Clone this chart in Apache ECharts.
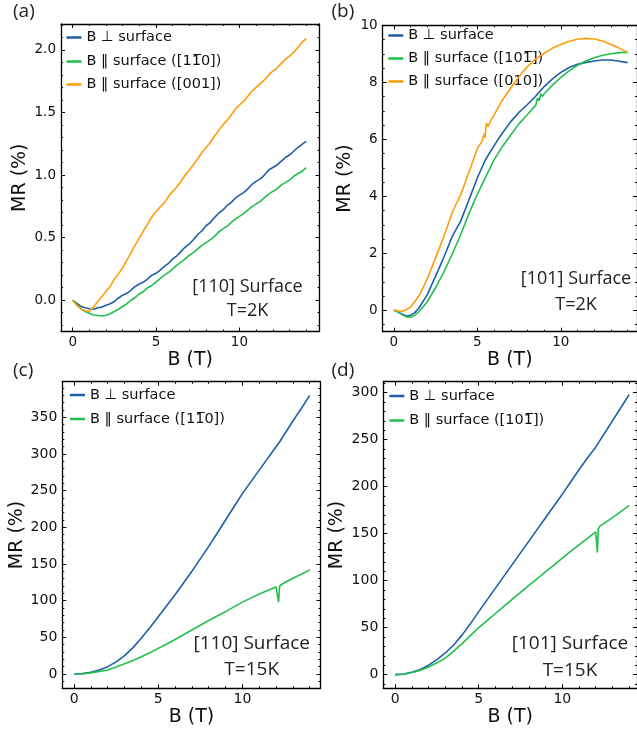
<!DOCTYPE html>
<html>
<head>
<meta charset="utf-8">
<script src="https://cdn.jsdelivr.net/npm/echarts@6/dist/echarts.min.js"></script>
<style>
  html, body { margin: 0; padding: 0; background: #fff; }
  #fig { width: 637px; height: 734px; }
</style>
</head>
<body>
<div id="fig"></div>
<script>
// ---- Measured magnetoresistance, [B (T), MR (%)] ----
// (a) [110] surface, T = 2 K
const a_perp = [[0,0],[0.25,-0.025],[0.5,-0.05],[0.75,-0.06],[1,-0.068],[1.25,-0.072],[1.5,-0.06],[1.75,-0.055],[2,-0.04],[2.25,-0.028],[2.5,-0.01],[2.75,0.018],[3,0.04],[3.25,0.055],[3.5,0.08],[3.75,0.11],[4,0.13],[4.25,0.145],[4.5,0.17],[4.75,0.2],[5,0.215],[5.25,0.24],[5.5,0.27],[5.75,0.295],[6,0.33],[6.25,0.355],[6.5,0.39],[6.75,0.425],[7,0.45],[7.25,0.485],[7.5,0.525],[7.75,0.555],[8,0.595],[8.25,0.62],[8.5,0.66],[8.75,0.695],[9,0.72],[9.25,0.755],[9.5,0.78],[9.75,0.815],[10,0.84],[10.25,0.86],[10.5,0.89],[10.75,0.925],[11,0.95],[11.25,0.97],[11.5,1.0],[11.75,1.04],[12,1.06],[12.25,1.08],[12.5,1.11],[12.75,1.14],[13,1.16],[13.25,1.19],[13.5,1.22],[13.75,1.245],[14,1.27]];
const a_par110 = [[0,0],[0.25,-0.035],[0.5,-0.07],[0.75,-0.09],[1,-0.105],[1.25,-0.118],[1.5,-0.122],[1.75,-0.126],[2,-0.12],[2.25,-0.108],[2.5,-0.09],[2.75,-0.072],[3,-0.05],[3.25,-0.028],[3.5,0],[3.75,0.022],[4,0.05],[4.25,0.07],[4.5,0.1],[4.75,0.118],[5,0.145],[5.25,0.175],[5.5,0.2],[5.75,0.222],[6,0.25],[6.25,0.28],[6.5,0.305],[6.75,0.33],[7,0.36],[7.25,0.382],[7.5,0.41],[7.75,0.438],[8,0.46],[8.25,0.482],[8.5,0.51],[8.75,0.545],[9,0.57],[9.25,0.59],[9.5,0.62],[9.75,0.648],[10,0.67],[10.25,0.692],[10.5,0.72],[10.75,0.748],[11,0.77],[11.25,0.79],[11.5,0.82],[11.75,0.848],[12,0.87],[12.25,0.89],[12.5,0.92],[12.75,0.94],[13,0.96],[13.25,0.99],[13.5,1.01],[13.75,1.03],[14,1.06]];
const a_par001 = [[0,0],[0.25,-0.04],[0.5,-0.07],[0.75,-0.085],[1,-0.088],[1.25,-0.055],[1.5,-0.01],[1.75,0.03],[2,0.07],[2.25,0.11],[2.5,0.17],[2.75,0.21],[3,0.26],[3.25,0.32],[3.5,0.38],[3.75,0.44],[4,0.5],[4.25,0.555],[4.5,0.61],[4.75,0.665],[5,0.71],[5.25,0.745],[5.5,0.78],[5.75,0.83],[6,0.87],[6.25,0.905],[6.5,0.95],[6.75,1.0],[7,1.04],[7.25,1.085],[7.5,1.13],[7.75,1.18],[8,1.22],[8.25,1.26],[8.5,1.31],[8.75,1.355],[9,1.4],[9.25,1.435],[9.5,1.48],[9.75,1.525],[10,1.56],[10.25,1.59],[10.5,1.63],[10.75,1.67],[11,1.7],[11.25,1.73],[11.5,1.76],[11.75,1.8],[12,1.83],[12.25,1.855],[12.5,1.89],[12.75,1.925],[13,1.95],[13.25,1.98],[13.5,2.02],[13.75,2.06],[14,2.09]];

// (b) [101] surface, T = 2 K
const b_perp = [[0,0],[0.25,-0.05],[0.5,-0.14],[0.75,-0.2],[1,-0.17],[1.25,-0.08],[1.5,0.08],[2,0.55],[2.5,1.2],[3,1.87],[3.5,2.6],[4,3.13],[4.5,3.88],[5,4.65],[5.5,5.3],[6,5.78],[6.5,6.22],[7,6.62],[7.5,6.95],[8,7.22],[8.5,7.52],[9,7.85],[9.5,8.12],[10,8.35],[10.5,8.52],[11,8.63],[11.5,8.7],[12,8.75],[12.5,8.78],[13,8.78],[13.5,8.74],[14,8.69]];
const b_par101 = [[0,0],[0.25,-0.06],[0.5,-0.16],[0.75,-0.23],[1,-0.24],[1.25,-0.17],[1.5,-0.05],[2,0.3],[2.5,0.8],[3,1.35],[3.5,1.98],[4,2.65],[4.5,3.4],[5,4.08],[5.5,4.68],[6,5.28],[6.5,5.75],[7,6.15],[7.5,6.55],[8,6.87],[8.5,7.2],[8.6,7.45],[8.7,7.35],[8.8,7.6],[8.9,7.5],[9,7.6],[9.5,7.9],[10,8.17],[10.5,8.4],[11,8.6],[11.5,8.75],[12,8.86],[12.5,8.95],[13,9.0],[13.5,9.04],[14,9.05]];
const b_par010 = [[0,0],[0.25,-0.02],[0.5,-0.03],[0.75,0.02],[1,0.12],[1.5,0.5],[2,1.1],[2.5,1.85],[3,2.6],[3.5,3.45],[4,4.05],[4.5,4.85],[5,5.68],[5.3,5.95],[5.4,6.2],[5.45,6.05],[5.55,6.57],[5.65,6.45],[5.75,6.6],[6,6.85],[6.5,7.38],[7,7.8],[7.5,8.2],[8,8.55],[8.5,8.82],[9,9.02],[9.5,9.2],[10,9.33],[10.5,9.44],[11,9.51],[11.5,9.54],[12,9.52],[12.5,9.45],[13,9.33],[13.5,9.2],[14,9.05]];

// (c) [110] surface, T = 15 K
const c_perp = [[0,0],[0.5,0.5],[1,2.5],[1.5,5.5],[2,10],[2.5,16.5],[3,25],[3.5,36],[4,49],[4.5,63],[5,78],[5.5,93],[6,108],[6.5,124],[7,140],[7.5,157],[8,174],[8.5,192],[9,210],[9.5,228],[10,246],[10.5,262],[11,278],[11.5,294],[12,310],[12.2,316],[12.25,314],[12.5,327],[13,345],[13.5,362],[14,380]];
const c_par110 = [[0,0],[0.5,0.3],[1,1.5],[1.5,3.3],[2,5.5],[2.5,9.5],[3,14],[3.5,18.5],[4,23.5],[4.5,29],[5,35],[5.5,41],[6,47],[6.5,53.5],[7,60],[7.5,66.5],[8,73],[8.5,79],[9,85],[9.5,91.5],[10,98],[10.5,103.5],[11,109],[11.5,114],[12,118.5],[12.1,119.5],[12.15,98],[12.2,118],[12.25,121],[12.5,124.5],[13,130.5],[13.5,136],[14,142]];

// (d) [101] surface, T = 15 K
const d_perp = [[0,0],[0.5,0.5],[1,2.5],[1.5,5.5],[2,10],[2.5,16],[3,23],[3.5,31.5],[4,42],[4.5,54],[5,67],[5.5,79.5],[6,92],[6.5,104.5],[7,117],[7.5,129.5],[8,142],[8.5,154.5],[9,167],[9.5,179.5],[10,192],[10.5,205],[11,218],[11.5,230.5],[12,242],[12.05,241],[12.1,245],[12.5,256],[13,270],[13.5,284],[14,298]];
const d_par101 = [[0,0],[0.5,0.4],[1,2.2],[1.5,4.5],[2,8],[2.5,12.5],[3,17.5],[3.5,25],[4,33],[4.5,41.5],[5,50],[5.5,57.5],[6,65],[6.5,72.5],[7,80],[7.5,87.5],[8,95],[8.5,102],[9,109.5],[9.5,116.5],[10,124],[10.5,131],[11,138],[11.5,145],[12,152],[12.05,153],[12.1,130],[12.15,155],[12.25,158],[12.5,161],[13,167],[13.5,173.5],[14,180]];

// ---- Tick labels ----
const xTicks  = [0, 5, 10];
const yTicksA = [0, 0.5, 1.0, 1.5, 2.0];
const yTicksB = [0, 2, 4, 6, 8, 10];
const yTicksC = [0, 50, 100, 150, 200, 250, 300, 350];
const yTicksD = [0, 50, 100, 150, 200, 250, 300];

// ---- Legend labels ----
const L_PERP   = 'B \u22A5 surface';
const L_110    = 'B \u2016 surface ([11\u03050])';
const L_101    = 'B \u2016 surface ([101\u0305])';
const L_001    = 'B \u2016 surface ([001])';
const L_010    = 'B \u2016 surface ([010])';

const BLUE = '#1f5ea8', GREEN = '#22c04a', ORANGE = '#ff9c0a';
const INK = '#111';
const TICK_FONT = 'DejaVu Sans';
const NOTE_FONT = 'Open Sans';

const panels = [
  { grid: {left: 61, top: 24, width: 258.5, height: 307.5}, x: [-0.7, 14.8], y: [-0.25, 2.207],
    yTicks: yTicksA, yMinor: 0.1, yMajor: 0.5, digits: 1, tickSize: 13.5, xGap: 18, yGap: 31,
    lines: [[L_PERP, a_perp, BLUE], [L_110, a_par110, GREEN], [L_001, a_par001, ORANGE]],
    legendLeft: 66.5, legendRows: [37.5, 61.5, 84.5],
    note: ['[110] Surface', 'T=2K'], noteX: 247.5, noteY: [287, 311], noteSize: 18,
    tag: '(a)', tagX: 13, tagY: 12 },
  { grid: {left: 382.7, top: 25.3, width: 256.3, height: 306.4}, x: [-0.67, 14.56], y: [-0.75, 10],
    yTicks: yTicksB, yMinor: 0.5, yMajor: 2, digits: 0, tickSize: 13.5, xGap: 18, yGap: 28,
    lines: [[L_PERP, b_perp, BLUE], [L_101, b_par101, GREEN], [L_010, b_par010, ORANGE]],
    legendLeft: 388.3, legendRows: [35.5, 58.5, 81.5],
    note: ['[101] Surface', 'T=2K'], noteX: 576, noteY: [279, 305], noteSize: 18,
    tag: '(b)', tagX: 331.5, tagY: 12 },
  { grid: {left: 62.3, top: 381.7, width: 258.2, height: 306.6}, x: [-0.7, 14.64], y: [-19.5, 398.6],
    yTicks: yTicksC, yMinor: 10, yMajor: 50, digits: 0, tickSize: 14, xGap: 12, yGap: 36,
    lines: [[L_PERP, c_perp, BLUE], [L_110, c_par110, GREEN]],
    legendLeft: 70, legendRows: [395, 419],
    note: ['[110] Surface', 'T=15K'], noteX: 251.7, noteY: [643.3, 669.7], noteSize: 19,
    tag: '(c)', tagX: 13, tagY: 371 },
  { grid: {left: 383.3, top: 381.7, width: 255.7, height: 306.6}, x: [-0.71, 14.47], y: [-14.6, 311.7],
    yTicks: yTicksD, yMinor: 10, yMajor: 50, digits: 0, tickSize: 14, xGap: 12, yGap: 37,
    lines: [[L_PERP, d_perp, BLUE], [L_101, d_par101, GREEN]],
    legendLeft: 389.3, legendRows: [396, 420.5],
    note: ['[101] Surface', 'T=15K'], noteX: 570, noteY: [643.8, 670.8], noteSize: 19,
    tag: '(d)', tagX: 331.5, tagY: 371 }
];

// Minor tick positions between the labelled majors
function minorTicks(lo, hi, step, major) {
  const out = [];
  for (let k = Math.ceil(lo / step - 1e-9); k * step <= hi + 1e-9; k++) {
    const v = +(k * step).toFixed(6);
    const r = v / major;
    if (Math.abs(r - Math.round(r)) > 1e-6) out.push(v);
  }
  return out;
}

const frameLine = { show: true, onZero: false, lineStyle: { color: '#000', width: 1.3 } };
const noLine = { show: false, onZero: false };
const tickStyle = { color: '#000', width: 1 };

const grids = [], xAxes = [], yAxes = [], series = [], legends = [], graphics = [];

panels.forEach((p, g) => {
  grids.push(Object.assign({ containLabel: false }, p.grid));
  const xMinor = minorTicks(p.x[0], p.x[1], 1, 5);
  const yMinor = minorTicks(p.y[0], p.y[1], p.yMinor, p.yMajor);
  const xBase = { gridIndex: g, type: 'value', min: p.x[0], max: p.x[1], splitLine: { show: false } };
  const yBase = { gridIndex: g, type: 'value', min: p.y[0], max: p.y[1], splitLine: { show: false } };

  const xMain = xAxes.length;
  // bottom: labelled major ticks + axis title
  xAxes.push(Object.assign({}, xBase, {
    position: 'bottom', axisLine: frameLine,
    axisTick: { show: true, inside: true, length: 4, customValues: xTicks, lineStyle: tickStyle },
    axisLabel: { show: true, customValues: xTicks, fontFamily: TICK_FONT, fontSize: p.tickSize, color: INK, margin: 4 },
    name: 'B (T)', nameLocation: 'middle', nameGap: p.xGap,
    nameTextStyle: { fontFamily: TICK_FONT, fontSize: 19, color: INK, verticalAlign: 'top' }
  }));
  xAxes.push(Object.assign({}, xBase, { position: 'bottom', axisLine: noLine, axisLabel: { show: false },
    axisTick: { show: true, inside: true, length: 2, customValues: xMinor, lineStyle: tickStyle } }));
  xAxes.push(Object.assign({}, xBase, { position: 'top', axisLine: frameLine, axisLabel: { show: false },
    axisTick: { show: true, inside: true, length: 4, customValues: xTicks, lineStyle: tickStyle } }));
  xAxes.push(Object.assign({}, xBase, { position: 'top', axisLine: noLine, axisLabel: { show: false },
    axisTick: { show: true, inside: true, length: 2, customValues: xMinor, lineStyle: tickStyle } }));

  const yMain = yAxes.length;
  yAxes.push(Object.assign({}, yBase, {
    position: 'left', axisLine: frameLine,
    axisTick: { show: true, inside: true, length: 4, customValues: p.yTicks, lineStyle: tickStyle },
    axisLabel: { show: true, customValues: p.yTicks, fontFamily: TICK_FONT, fontSize: p.tickSize, color: INK, margin: 5,
      formatter: v => Number(v).toFixed(p.digits) },
    name: 'MR (%)', nameLocation: 'middle', nameGap: p.yGap,
    nameTextStyle: { fontFamily: TICK_FONT, fontSize: 19, color: INK }
  }));
  yAxes.push(Object.assign({}, yBase, { position: 'left', axisLine: noLine, axisLabel: { show: false },
    axisTick: { show: true, inside: true, length: 2, customValues: yMinor, lineStyle: tickStyle } }));
  yAxes.push(Object.assign({}, yBase, { position: 'right', axisLine: frameLine, axisLabel: { show: false },
    axisTick: { show: true, inside: true, length: 4, customValues: p.yTicks, lineStyle: tickStyle } }));
  yAxes.push(Object.assign({}, yBase, { position: 'right', axisLine: noLine, axisLabel: { show: false },
    axisTick: { show: true, inside: true, length: 2, customValues: yMinor, lineStyle: tickStyle } }));

  p.lines.forEach(([name, data, color], i) => {
    series.push({
      type: 'line', name: name, data: data, xAxisIndex: xMain, yAxisIndex: yMain,
      showSymbol: false, symbol: 'none', clip: true, smooth: false, z: 3 + i,
      lineStyle: { color: color, width: 1.6 }, itemStyle: { color: color }, emphasis: { disabled: true }
    });
    legends.push({
      data: [name], orient: 'vertical', left: p.legendLeft, top: p.legendRows[i] - 8, padding: 0,
      icon: 'rect', itemWidth: 15, itemHeight: 2.5, selectedMode: false,
      textStyle: { fontFamily: TICK_FONT, fontSize: 14.5, color: INK, lineHeight: 16 }
    });
  });

  p.note.forEach((t, k) => {
    graphics.push({ type: 'text', x: p.noteX, y: p.noteY[k], silent: true,
      style: { text: t, font: p.noteSize + 'px "' + NOTE_FONT + '"', fill: '#222', align: 'center', verticalAlign: 'middle' } });
  });
  graphics.push({ type: 'text', x: p.tagX, y: p.tagY, silent: true,
    style: { text: p.tag, font: '19px "' + NOTE_FONT + '"', fill: '#222', align: 'left', verticalAlign: 'middle' } });
});

const chart = echarts.init(document.getElementById('fig'), null, { renderer: 'canvas' });
chart.setOption({
  backgroundColor: '#fff',
  animation: false,
  grid: grids,
  xAxis: xAxes,
  yAxis: yAxes,
  legend: legends,
  series: series,
  graphic: graphics
});
</script>
</body>
</html>
